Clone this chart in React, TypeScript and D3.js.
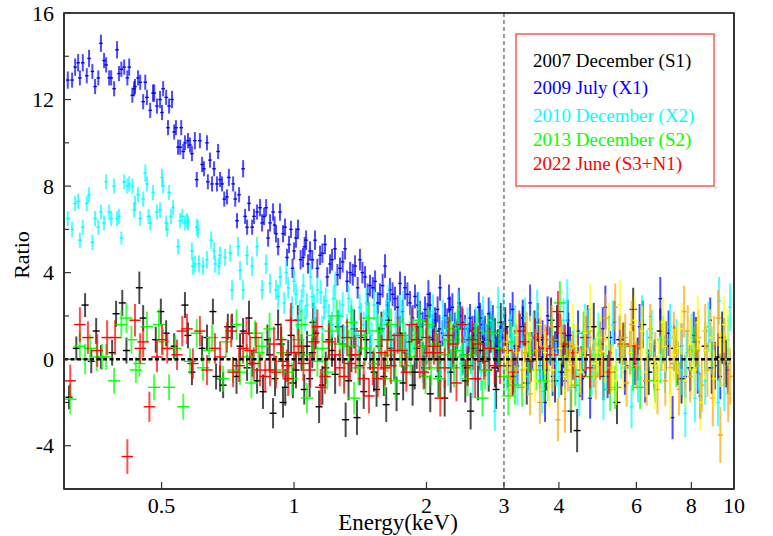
import React from "react";
import * as d3 from "d3";

// [energy keV, ratio, 1-sigma error]
const s1Dec2007: number[][] = [
  [0.308,-1.76,.55],[0.320,0.5,.55],[0.335,2.5,.55],[0.346,-0.1,.55],[0.355,1.3,.6],[0.364,0.1,.55],
  [0.386,0.3,.6],[0.394,2.1,.6],[0.407,2.6,.6],[0.416,0.4,.6],[0.445,3.3,.75],[0.454,1.9,.6],
  [0.485,0.9,.6],[0.498,2.2,.6],[0.512,1.2,.6],[0.534,0.6,.6],[0.565,2.5,.6],[0.574,1.1,.6],
  [0.586,-0.6,.6],[0.618,0.5,.6],[0.634,1.0,.6],[0.654,2.2,.6],[0.665,-0.8,.6],[0.679,-0.9,.6],
  [0.690,-1.2,.6],[0.707,1.5,.6],[0.723,1.5,.6],[0.754,0.6,.6],[0.766,1.3,.6],[0.782,-0.4,.6],
  [0.803,-0.2,.6],[0.824,-1.0,.6],[0.87,0.9,.7],[0.896,-2.5,.7],[0.92,1.6,.7],[0.944,-2.0,.7],
  [0.97,0.2,.7],[0.994,-1.1,.7],[1.02,1.8,.7],[1.055,-1.4,.7],[1.07,0.6,.7],[1.10,0.3,.7],
  [1.12,1.2,.75],[1.14,-2.2,.75],[1.18,-0.4,.75],[1.22,0.4,.75],[1.26,1.5,.75],[1.31,-2.8,.8],
  [1.35,0.2,.8],[1.39,-2.7,.8],[1.42,1.0,.8],[1.44,-1.5,.8],[1.49,0.3,.8],[1.54,-1.4,.8],
  [1.58,1.4,.8],[1.62,-2.1,.8],[1.66,0.5,.8],[1.71,-1.6,.8],[1.74,1.2,.8],[1.77,-1.1,.8],
  [1.83,0.8,.8],[1.88,-0.6,.8],[1.92,1.5,.8],[1.96,0.0,.8],[2.00,0.6,.85],[2.04,-1.6,.85],
  [2.10,1.3,.85],[2.15,0.0,.85],[2.20,-1.8,.85],[2.24,0.9,.85],[2.30,0.4,.85],[2.36,1.6,.85],
  [2.42,0.2,.85],[2.48,-0.4,.85],[2.52,-2.4,.85],[2.58,1.1,.9],[2.65,0.4,.9],[2.72,0.1,.9],
  [2.80,1.2,.9],[2.86,-0.4,.9],[2.88,-1.4,.9],[2.95,1.7,.9],[3.02,1.5,.9],[3.14,-0.8,.9],
  [3.31,1.5,.95],[3.44,0.3,.95],[3.6,0.9,.95],[3.75,-0.5,.95],[3.92,-1.0,1.0],[3.96,1.5,1.0],
  [4.1,0.6,1.0],[4.26,-2.4,1.0],[4.40,-3.3,1.0],[4.6,0.2,1.0],[4.96,0.7,1.0],[5.2,1.0,1.0],
  [5.42,-2.0,1.0],[5.65,-0.3,1.0],[5.90,2.3,1.0],[6.04,0.0,1.0],[6.4,-0.6,1.05],[6.80,1.3,1.05],
  [7.3,0.5,1.05],[7.95,-0.4,1.05],[8.6,0.6,1.1],[9.20,0.1,1.1],[9.6,-0.2,1.1],
  [0.74,-0.8,.8],[0.79,1.9,.8],[0.85,-1.5,.8],[0.88,0.2,.8],[0.905,-0.9,.8],[0.935,0.7,.8],
  [0.955,-1.3,.85],[0.985,1.1,.85],[1.01,-0.5,.85],[1.04,0.3,.85],[1.085,-0.9,.85],[1.105,1.7,.9],
  [1.16,-1.2,.9],[1.20,0.9,.9],[1.24,-0.7,.9],[1.29,0.7,.9],[1.33,-1.0,.9],[1.37,1.4,.9],
  [1.41,-0.3,.9],[1.46,0.9,.9],[1.52,-0.6,.9],[1.56,0.6,.9],[1.60,-0.8,.9],[1.64,1.8,.95],
  [1.69,0.0,.95],[1.79,0.3,.95],[1.86,-1.2,.95],[1.90,0.5,.95],[1.98,-0.4,.95],[2.07,0.9,.95],
  [2.13,-0.8,.95],[2.27,-0.6,.95],[2.33,0.9,.95],[2.45,-1.0,1.0],[2.55,0.5,1.0],[2.62,-0.9,1.0],
  [2.69,0.8,1.0],[2.77,-0.5,1.0],[2.91,0.4,1.0],[3.06,-0.3,1.0],[3.2,0.6,1.0],[3.38,-1.1,1.0],
  [3.52,1.2,1.05],[3.68,0.1,1.05],[3.84,1.8,1.05],[4.05,-0.6,1.05],[4.2,1.1,1.05],[4.5,-0.5,1.1],
  [4.8,1.5,1.1],[5.05,-0.8,1.1],[5.5,0.9,1.1],[6.2,1.6,1.1],[6.6,-0.2,1.1],[7.0,0.6,1.15],
  [7.6,-0.9,1.15],[8.2,0.8,1.15],[8.9,-0.4,1.2],[9.4,1.0,1.2],
];

const x1Jul2009: number[][] = [
  [0.306,12.9,.4],[0.313,12.9,.35],[0.318,13.5,.4],[0.323,13.7,.4],[0.326,13.0,.35],[0.331,13.7,.4],
  [0.338,13.1,.35],[0.342,13.9,.4],[0.348,13.3,.35],[0.353,12.6,.35],[0.359,13.0,.35],[0.364,14.6,.4],
  [0.370,13.8,.35],[0.374,13.6,.35],[0.380,13.0,.35],[0.384,13.0,.35],[0.390,12.5,.35],[0.396,14.3,.4],
  [0.400,13.2,.35],[0.405,13.4,.35],[0.411,13.5,.35],[0.418,13.0,.35],[0.422,13.5,.4],[0.429,12.2,.35],
  [0.433,12.5,.35],[0.435,12.6,.35],[0.442,13.0,.35],[0.447,12.8,.35],[0.454,11.9,.35],[0.459,12.8,.35],
  [0.463,12.1,.35],[0.471,11.5,.35],[0.478,12.3,.4],[0.481,12.3,.4],[0.488,11.7,.35],[0.496,12.0,.4],
  [0.501,11.4,.35],[0.504,12.5,.35],[0.512,12.1,.35],[0.517,10.7,.35],[0.520,11.7,.35],[0.528,12.0,.4],
  [0.534,10.5,.35],[0.539,10.7,.35],[0.545,9.8,.35],[0.551,9.8,.35],[0.554,10.7,.35],[0.560,9.6,.35],
  [0.565,10.0,.35],[0.574,10.1,.35],[0.580,9.9,.35],[0.586,9.5,.35],[0.595,10.1,.4],[0.601,8.3,.35],
  [0.611,10.1,.35],[0.618,9.0,.35],[0.624,8.8,.35],[0.634,10.0,.35],[0.637,8.2,.35],[0.644,9.2,.35],
  [0.651,8.1,.35],[0.658,8.8,.35],[0.668,8.1,.35],[0.672,9.6,.35],[0.679,8.3,.35],[0.686,8.1,.35],
  [0.694,7.4,.35],[0.704,7.5,.35],[0.711,8.4,.4],[0.727,8.1,.35],[0.735,7.4,.35],[0.742,6.4,.35],
  [0.750,7.6,.35],[0.766,8.8,.4],[0.774,6.6,.35],[0.782,6.1,.35],[0.790,7.2,.35],[0.803,6.1,.35],
  [0.811,6.6,.35],[0.824,6.8,.35],[0.837,7.0,.4],[0.846,6.3,.4],[0.855,6.6,.4],[0.864,7.0,.4],
  [0.873,5.6,.4],[0.882,6.3,.4],[0.896,6.8,.4],[0.903,6.2,.4],[0.910,5.8,.4],[0.92,5.2,.4],
  [0.929,6.8,.4],[0.944,5.8,.4],[0.954,6.1,.4],[0.964,4.7,.4],[0.974,5.3,.4],[0.984,6.0,.4],
  [0.992,4.2,.45],[1.0,5.0,.4],[1.01,5.6,.45],[1.021,6.0,.45],[1.035,4.6,.45],[1.048,4.7,.45],
  [1.057,5.2,.45],[1.065,5.5,.45],[1.076,4.4,.45],[1.087,5.0,.45],[1.10,4.6,.45],[1.116,5.5,.45],
  [1.13,4.2,.45],[1.146,4.8,.45],[1.16,4.9,.45],[1.176,5.3,.45],[1.19,3.8,.45],[1.207,4.4,.45],
  [1.22,4.6,.5],[1.239,5.1,.5],[1.255,3.9,.5],[1.272,4.2,.5],[1.29,4.5,.5],[1.306,5.1,.5],
  [1.32,3.6,.5],[1.341,4.0,.5],[1.36,3.9,.5],[1.376,4.3,.5],[1.395,3.3,.5],[1.412,4.6,.5],
  [1.43,4.0,.5],[1.45,3.8,.5],[1.47,3.0,.5],[1.488,3.4,.5],[1.51,3.3,.5],[1.528,3.6,.5],
  [1.55,2.6,.5],[1.568,3.0,.5],[1.59,3.4,.55],[1.61,4.3,.55],[1.63,2.5,.55],[1.652,3.2,.55],
  [1.675,3.0,.55],[1.696,2.8,.55],[1.72,2.4,.55],[1.741,3.5,.55],[1.765,2.2,.55],[1.787,3.3,.55],
  [1.81,3.0,.55],[1.835,2.6,.55],[1.86,1.9,.6],[1.883,2.9,.55],[1.91,2.5,.6],[1.933,2.1,.6],
  [1.96,1.6,.6],[1.985,2.3,.6],[2.01,2.0,.6],[2.037,2.5,.6],[2.065,1.5,.6],[2.091,1.8,.6],
  [2.12,2.3,.6],[2.147,3.3,.6],[2.175,1.2,.6],[2.204,2.0,.6],[2.23,1.7,.65],[2.262,2.3,.6],
  [2.29,2.4,.65],[2.322,1.5,.65],[2.35,1.1,.65],[2.384,2.0,.65],[2.415,1.7,.65],[2.447,1.4,.65],
  [2.48,0.9,.65],[2.512,1.9,.65],[2.545,1.3,.7],[2.579,1.6,.7],[2.61,0.8,.7],[2.647,1.9,.7],
  [2.68,1.6,.7],[2.717,1.3,.7],[2.75,0.9,.7],[2.79,1.5,.7],[2.83,1.8,.7],[2.863,1.2,.7],
  [2.9,0.6,.75],[2.94,0.8,.75],[2.98,1.0,.75],[3.018,1.4,.75],[3.10,1.8,.8],[3.18,0.5,.8],
  [3.26,1.3,.8],[3.35,0.7,.85],[3.44,2.6,.85],[3.53,1.0,.85],[3.62,-0.3,.85],[3.72,-2.0,.9],
  [3.82,0.6,.9],[3.92,0.4,.9],[4.13,-1.0,.9],[4.24,0.6,.9],[4.35,-0.4,.95],[4.59,0.3,.95],
  [4.71,-1.8,.95],[4.96,0.8,.95],[5.10,2.4,1.0],[5.23,0.3,1.0],[5.51,1.0,1.0],[5.81,0.3,1.0],
  [5.96,-0.2,1.0],[6.28,-1.0,1.0],[6.45,1.0,1.0],[6.80,2.8,1.0],[6.98,0.1,1.0],[7.25,-2.7,1.0],
  [7.45,-0.2,1.0],[7.75,-0.8,1.0],[7.95,-0.5,1.0],[8.27,-0.6,1.0],[8.38,-1.7,1.05],[8.83,1.8,1.05],
  [9.31,-0.8,1.05],[9.68,-0.5,1.05],
  [2.02,3.0,.65],[2.14,1.4,.65],[2.25,2.8,.65],[2.37,2.6,.7],[2.50,1.0,.7],[2.63,2.4,.7],
  [2.77,2.1,.75],[2.88,0.3,.75],[3.05,0.7,.8],[3.14,2.3,.8],[3.22,-0.3,.85],[3.31,1.9,.85],
  [3.40,-0.6,.85],[3.48,0.4,.85],[3.58,1.7,.9],[3.67,0.9,.9],[3.77,2.0,.9],[3.87,-0.8,.9],
  [3.98,1.2,.95],[4.07,-0.3,.95],[4.19,1.8,.95],[4.30,0.0,.95],[4.42,1.3,.95],[4.52,-0.9,1.0],
  [4.65,1.5,1.0],[4.80,-0.3,1.0],[5.03,1.4,1.0],[5.16,-0.8,1.0],[5.35,1.7,1.0],[5.65,-0.6,1.05],
  [6.1,1.5,1.05],[6.6,-0.4,1.05],[7.1,1.2,1.05],[7.6,0.6,1.05],[8.1,1.1,1.1],[8.6,0.4,1.1],
  [9.05,-0.3,1.1],[9.5,0.8,1.1],
];

const x2Dec2010: number[][] = [
  [0.306,6.5,.35],[0.313,6.0,.35],[0.318,7.2,.35],[0.323,7.3,.35],[0.326,5.5,.35],[0.331,6.1,.35],
  [0.338,7.2,.35],[0.342,7.6,.35],[0.348,5.4,.35],[0.353,6.5,.35],[0.359,6.1,.35],[0.364,6.8,.35],
  [0.370,6.3,.35],[0.374,8.2,.35],[0.380,6.8,.35],[0.384,6.5,.35],[0.390,8.0,.35],[0.396,6.5,.35],
  [0.400,6.6,.35],[0.405,5.6,.3],[0.411,8.2,.35],[0.418,8.0,.35],[0.422,8.1,.35],[0.429,8.0,.35],
  [0.433,6.9,.35],[0.435,7.2,.35],[0.442,7.6,.35],[0.447,6.5,.35],[0.454,7.4,.35],[0.459,8.6,.4],
  [0.463,8.1,.35],[0.467,6.6,.35],[0.471,6.3,.35],[0.478,7.7,.35],[0.488,6.8,.35],[0.496,6.9,.35],
  [0.501,8.4,.4],[0.504,8.0,.35],[0.512,6.3,.35],[0.515,6.0,.35],[0.520,7.7,.35],[0.525,6.6,.35],
  [0.531,7.0,.35],[0.545,5.2,.35],[0.551,6.4,.35],[0.557,6.6,.35],[0.565,6.3,.35],[0.571,6.4,.35],
  [0.574,6.3,.35],[0.586,5.0,.4],[0.589,4.3,.4],[0.595,4.4,.4],[0.601,6.1,.4],[0.605,6.0,.4],
  [0.608,4.4,.4],[0.621,4.3,.4],[0.634,4.6,.4],[0.648,5.5,.4],[0.658,5.0,.4],[0.662,4.4,.4],
  [0.675,4.3,.4],[0.679,4.8,.4],[0.697,4.7,.4],[0.716,4.9,.4],[0.723,3.2,.45],[0.746,5.2,.45],
  [0.754,4.1,.45],[0.766,3.2,.45],[0.782,4.8,.45],[0.803,4.3,.45],[0.824,5.2,.45],[0.846,3.2,.45],
  [0.864,4.4,.45],[0.882,3.5,.45],[0.91,3.2,.45],[0.93,3.8,.5],[0.95,2.6,.5],[0.97,3.3,.5],
  [0.99,2.4,.5],[1.01,3.0,.5],[1.03,2.2,.5],[1.05,3.4,.55],[1.07,2.5,.55],[1.10,2.9,.55],
  [1.12,1.9,.55],[1.15,3.1,.55],[1.17,2.4,.55],[1.20,2.0,.55],[1.23,2.8,.6],[1.26,1.7,.6],
  [1.29,2.5,.6],[1.32,1.5,.6],[1.35,2.2,.6],[1.38,1.2,.6],[1.41,2.4,.6],[1.44,1.6,.6],
  [1.47,2.0,.6],[1.50,1.1,.65],[1.54,1.9,.65],[1.58,1.3,.65],[1.62,2.1,.65],[1.66,0.9,.65],
  [1.70,1.5,.7],[1.74,2.2,.7],[1.79,1.0,.7],[1.84,1.7,.7],[1.89,0.6,.7],[1.94,1.3,.75],
  [1.99,0.2,.75],[2.04,1.5,.75],[2.10,0.7,.75],[2.15,-1.0,.8],[2.21,1.2,.8],[2.27,0.4,.8],
  [2.33,1.4,.8],[2.39,-0.2,.8],[2.45,1.0,.85],[2.52,0.3,.85],[2.59,1.6,.85],[2.66,-0.6,.85],
  [2.73,0.8,.85],[2.80,1.8,.9],[2.86,-2.4,.9],[2.95,0.5,.9],[2.99,2.1,.9],[3.10,1.2,.9],
  [3.18,1.6,.9],[3.30,0.6,.9],[3.40,-0.8,.9],[3.50,1.2,.95],[3.62,-0.4,.95],[3.70,0.4,.95],
  [3.78,-1.0,.95],[3.94,-0.2,1.0],[4.05,0.8,1.0],[4.18,2.7,1.0],[4.25,-1.4,1.0],[4.38,-0.5,1.0],
  [4.52,0.3,1.0],[4.65,1.3,1.0],[4.83,0.0,1.0],[5.05,-1.8,1.0],[5.2,0.9,1.0],[5.40,-0.5,1.0],
  [5.54,0.1,1.0],[5.85,-2.2,1.0],[5.89,-0.5,1.0],[6.18,1.9,1.05],[6.35,0.3,1.05],[6.6,-0.7,1.05],
  [6.97,-0.5,1.05],[7.16,1.5,1.05],[7.4,0.8,1.05],[7.75,-2.5,1.1],[7.8,0.3,1.05],[8.0,1.0,1.1],
  [8.15,-1.8,1.1],[8.60,-1.0,1.1],[8.9,0.4,1.1],[9.20,-2.0,1.1],[9.25,2.7,1.1],[9.70,0.9,1.1],
  [9.80,2.4,1.1],
  [0.92,2.9,.55],[0.96,4.0,.55],[0.98,1.8,.55],[1.00,3.6,.55],[1.02,1.5,.55],[1.04,2.7,.55],
  [1.06,1.9,.6],[1.09,3.8,.6],[1.11,2.4,.6],[1.13,3.2,.6],[1.16,1.4,.6],[1.18,2.7,.6],
  [1.22,1.6,.6],[1.24,3.4,.65],[1.27,2.1,.65],[1.30,0.9,.65],[1.33,2.8,.65],[1.36,1.7,.65],
  [1.40,0.6,.65],[1.42,1.9,.7],[1.46,2.6,.7],[1.49,0.7,.7],[1.52,2.5,.7],[1.56,0.5,.7],
  [1.60,1.6,.7],[1.64,2.7,.75],[1.68,0.4,.75],[1.72,1.2,.75],[1.77,2.4,.75],[1.81,0.3,.75],
  [1.86,1.1,.8],[1.92,2.3,.8],[1.96,-0.3,.8],[2.01,0.9,.8],[2.07,2.2,.8],[2.12,0.0,.85],
  [2.18,1.9,.85],[2.24,-0.4,.85],[2.30,0.9,.85],[2.36,2.3,.85],[2.42,0.1,.85],[2.48,1.5,.9],
  [2.55,-0.9,.9],[2.62,0.6,.9],[2.69,2.0,.9],[2.76,-0.3,.9],[2.83,0.9,.9],[2.91,2.4,.95],
  [3.05,-0.5,.95],[3.14,0.3,.95],[3.22,-1.2,.95],[3.35,1.9,.95],[3.46,0.0,1.0],[3.57,2.2,1.0],
  [3.66,-1.5,1.0],[3.86,1.0,1.0],[4.0,-0.8,1.0],[4.1,1.8,1.0],[4.32,0.6,1.05],[4.45,-1.6,1.05],
  [4.58,1.5,1.05],[4.75,-0.6,1.05],[4.92,1.1,1.05],[5.12,-0.4,1.05],[5.3,1.6,1.1],[5.65,0.6,1.1],
  [6.05,-0.9,1.1],[6.5,1.2,1.1],[6.8,0.0,1.1],[7.6,-0.5,1.15],[8.3,-0.3,1.15],[8.75,1.5,1.15],
  [9.5,-1.2,1.2],
];

const s2Dec2013: number[][] = [
  [0.310,-1.85,.7],[0.326,0.6,.65],[0.335,0.0,.7],[0.344,0.5,.65],[0.356,0.1,.65],[0.366,0.1,.6],
  [0.374,0.1,.6],[0.390,-1.0,.6],[0.405,1.6,.65],[0.416,1.9,.7],[0.427,0.9,.65],[0.437,-0.5,.6],
  [0.445,-0.2,.6],[0.463,1.5,.7],[0.481,-1.3,.6],[0.493,1.6,.7],[0.504,0.8,.6],[0.520,-1.3,.6],
  [0.537,0.5,.6],[0.560,-2.2,.6],[0.580,-0.1,.6],[0.601,1.2,.65],[0.621,-0.4,.6],[0.641,0.4,.6],
  [0.651,1.0,.6],[0.690,-0.9,.6],[0.727,-0.5,.6],[0.754,-0.6,.6],[0.782,0.1,.6],[0.815,1.2,.6],
  [0.846,0.6,.65],[0.91,-0.5,.65],[0.97,-0.6,.65],[1.02,0.9,.7],[1.04,1.6,.7],[1.07,-1.8,.7],
  [1.13,-0.1,.7],[1.16,0.5,.7],[1.21,1.3,.7],[1.25,2.0,.75],[1.30,-0.8,.75],[1.33,0.6,.75],
  [1.37,-1.8,.75],[1.42,1.1,.75],[1.48,1.9,.75],[1.52,-0.2,.75],[1.57,0.9,.75],[1.61,-0.9,.75],
  [1.66,1.6,.75],[1.74,0.4,.75],[1.80,-0.3,.8],[1.88,0.9,.8],[1.93,1.8,.8],[1.99,-0.8,.8],
  [2.05,-0.4,.8],[2.10,0.7,.8],[2.20,0.2,.8],[2.27,1.4,.8],[2.34,0.4,.8],[2.41,0.1,.85],
  [2.48,-0.9,.8],[2.58,0.8,.85],[2.68,-1.8,.85],[2.76,1.2,.85],[2.84,1.2,.85],[3.07,-1.7,.9],
  [3.18,-1.2,.9],[3.30,-1.3,.9],[3.70,-1.0,.95],[4.02,2.6,1.0],[4.36,-1.2,.95],[4.71,-0.8,1.0],
  [5.23,-1.4,1.0],[5.37,-1.3,1.0],[6.12,-1.3,1.0],[6.62,-1.0,1.0],
  [0.70,0.8,.7],[0.74,1.6,.7],[0.80,-1.1,.7],[0.83,0.3,.7],[0.88,1.4,.75],[0.94,0.3,.75],
  [0.99,-0.9,.75],[1.05,0.2,.75],[1.10,1.1,.75],[1.19,-0.6,.8],[1.27,0.7,.8],[1.35,1.7,.8],
  [1.40,-0.4,.8],[1.45,0.5,.8],[1.55,1.3,.8],[1.63,0.2,.8],[1.70,-1.0,.85],[1.77,1.1,.85],
  [1.84,0.1,.85],[1.96,0.6,.85],[2.02,1.6,.85],[2.14,-0.9,.85],[2.24,0.9,.9],[2.31,-0.4,.9],
  [2.37,1.6,.9],[2.52,0.2,.9],[2.62,1.3,.9],[2.72,-0.5,.9],[2.92,0.5,.9],[3.0,-0.8,.9],
  [3.12,0.8,.95],[3.42,0.3,.95],[3.55,-0.5,.95],[3.85,0.9,1.0],[4.15,0.1,1.0],[4.55,1.2,1.0],
  [4.9,0.2,1.05],[5.6,0.6,1.05],[5.9,-0.4,1.05],[6.9,0.9,1.1],[7.4,-0.2,1.1],[8.1,0.4,1.1],
];

const s3n1Jun2022: number[][] = [
  [0.310,-1.0,.75],[0.326,1.6,.8],[0.340,1.0,.75],[0.357,0.4,.75],[0.376,1.0,.8],[0.392,1.0,.8],
  [0.418,-4.5,.8],[0.435,1.8,.75],[0.447,0.5,.7],[0.454,0.8,.7],[0.469,-2.2,.7],[0.488,0.1,.7],
  [0.501,0.9,.7],[0.515,0.5,.7],[0.542,0.2,.7],[0.557,1.3,.7],[0.571,1.4,.7],[0.589,-0.2,.7],
  [0.611,1.3,.7],[0.634,-0.5,.7],[0.661,0.5,.7],[0.679,0.1,.7],[0.704,1.0,.7],[0.727,-0.6,.7],
  [0.766,0.5,.7],[0.794,0.4,.7],[0.820,1.0,.7],[0.837,-0.5,.75],[0.86,-0.8,.75],[0.882,-0.5,.75],
  [0.91,-0.6,.75],[0.934,0.9,.75],[0.944,-0.1,.75],[0.964,-0.3,.75],[0.984,1.8,.8],[1.025,0.6,.8],
  [1.087,-0.5,.8],[1.13,1.5,.8],[1.176,-0.8,.8],[1.24,0.2,.8],[1.30,-0.8,.8],[1.34,-0.2,.8],
  [1.44,-0.9,.8],[1.48,-1.7,.8],[1.51,-0.4,.8],[1.58,0.3,.8],[1.61,-0.4,.8],[1.63,0.9,.8],
  [1.69,0.4,.8],[1.76,0.4,.8],[1.85,1.6,.8],[1.90,0.9,.8],[1.97,-0.6,.8],[2.03,0.3,.8],
  [2.08,0.6,.85],[2.15,-1.8,.85],[2.25,1.1,.85],[2.34,-1.1,.85],[2.41,1.6,.85],[2.54,0.9,.85],
  [2.62,0.7,.85],[2.70,-0.1,.85],[2.86,-0.3,.85],[2.94,-0.3,.85],[3.35,0.8,.9],[3.53,1.0,.9],
  [3.62,1.0,.9],[3.88,0.2,.9],[3.98,2.2,.95],[4.03,1.2,.9],[4.13,0.7,.9],[4.47,-0.8,.95],
  [4.71,-0.4,.95],[4.96,0.0,.95],[5.60,0.7,1.0],[5.93,0.6,1.0],
  [0.72,1.3,.75],[0.75,-0.3,.75],[0.78,1.2,.75],[0.81,-0.2,.75],[0.90,0.7,.8],[0.97,-0.9,.8],
  [1.00,0.3,.8],[1.05,-0.2,.8],[1.11,0.8,.8],[1.15,-1.3,.85],[1.20,0.8,.85],[1.27,-0.4,.85],
  [1.32,1.0,.85],[1.38,0.2,.85],[1.42,1.3,.85],[1.55,-0.9,.85],[1.66,-0.3,.85],[1.72,1.1,.85],
  [1.80,-0.6,.9],[1.93,0.0,.9],[2.00,1.0,.9],[2.12,0.3,.9],[2.20,-0.4,.9],[2.30,0.7,.9],
  [2.48,-0.3,.9],[2.58,-0.9,.9],[2.78,0.5,.95],[3.05,0.4,.95],[3.15,-0.6,.95],[3.25,1.3,.95],
  [3.45,-0.1,.95],[3.75,0.5,1.0],[4.3,0.3,1.0],[4.6,1.0,1.0],[5.2,-0.6,1.0],
];

const hardOrange: number[][] = [
  [3.20,0.3,.95],[3.30,-0.5,.95],[3.44,-1.6,1.0],[3.62,-2.0,1.0],[3.72,0.6,1.0],[3.98,-2.8,1.0],
  [4.13,-2.4,1.0],[4.19,-0.5,1.0],[4.35,-0.3,1.0],[4.47,-0.5,1.05],[4.71,1.3,1.05],[5.10,1.9,1.1],
  [5.37,2.4,1.1],[5.51,1.0,1.1],[5.66,1.0,1.1],[5.70,-1.1,1.1],[6.12,0.6,1.1],[6.33,-1.0,1.15],
  [6.62,0.1,1.15],[6.70,-1.4,1.15],[6.98,-1.0,1.15],[7.16,-0.4,1.15],[7.30,1.0,1.2],[7.50,-1.4,1.2],
  [7.70,2.2,1.2],[7.95,-0.8,1.2],[8.20,0.5,1.2],[8.30,1.0,1.25],[8.60,1.3,1.25],[8.70,-0.5,1.25],
  [8.95,-1.8,1.3],[9.20,1.9,1.3],[9.31,-3.5,1.3],[9.70,-1.6,1.3],
  [3.0,0.8,.95],[3.1,-0.9,.95],[3.38,1.2,1.0],[3.55,0.4,1.0],[3.85,1.5,1.0],[4.05,0.9,1.0],
  [4.27,-1.3,1.05],[4.58,0.5,1.05],[4.85,-0.8,1.05],[5.0,0.3,1.1],[5.25,-0.4,1.1],[5.85,1.6,1.1],
  [6.0,-0.3,1.1],[6.45,1.4,1.15],[6.85,0.6,1.15],[7.40,0.3,1.2],[7.85,1.3,1.2],[8.45,-1.2,1.25],
  [9.0,0.7,1.3],[9.5,0.0,1.3],[9.8,-0.8,1.3],
];

const hardYellow: number[][] = [
  [3.44,1.0,1.0],[3.53,-1.0,1.0],[3.72,0.3,1.0],[3.88,-0.5,1.0],[4.02,0.5,1.0],[4.13,-0.8,1.0],
  [4.24,-0.2,1.05],[4.38,0.6,1.05],[4.59,1.2,1.1],[4.71,2.4,1.1],[4.89,0.5,1.1],[4.96,1.0,1.1],
  [5.10,0.0,1.1],[5.30,-0.5,1.1],[5.40,-1.0,1.1],[5.51,2.5,1.15],[5.81,0.3,1.15],[6.18,1.3,1.15],
  [6.45,0.8,1.15],[6.62,-1.1,1.2],[6.75,-0.2,1.2],[6.98,0.6,1.2],[7.16,-1.6,1.2],[7.45,0.5,1.2],
  [7.75,-1.0,1.25],[7.95,0.7,1.25],[8.27,1.7,1.25],[8.38,-2.0,1.3],[8.83,1.0,1.3],[9.31,0.0,1.3],
  [9.68,1.0,1.3],
  [3.05,0.2,.95],[3.2,1.1,1.0],[3.35,-0.4,1.0],[3.62,1.6,1.0],[3.8,-1.2,1.0],[4.3,1.5,1.05],
  [4.48,-0.6,1.05],[4.8,-0.2,1.1],[5.2,1.5,1.1],[5.6,-0.3,1.15],[5.95,1.8,1.15],[6.3,-0.6,1.15],
  [6.9,1.7,1.2],[7.3,0.2,1.2],[7.6,1.4,1.2],[8.1,-0.5,1.25],[8.6,0.4,1.3],[9.0,-0.9,1.3],
  [9.5,1.6,1.3],
];

const legendLabels = ["2007 December (S1)", "2009 July (X1)", "2010 December (X2)", "2013 December (S2)", "2022 June (S3+N1)"];
const legendColors = ["#000000", "#0000ff", "#00ffff", "#00ff00", "#ff0000"];
const xTicks = [0.5, 1, 2, 3, 4, 6, 8, 10];
const yTicks = [-4, 0, 4, 8, 12, 16];
const yMinorTicks = [-2, 2, 6, 10, 14];

const W = 773, H = 536;
const margin = { top: 13, right: 39, bottom: 47, left: 64 };
const font = "Liberation Serif, Times New Roman, serif";

// draw order and half bin width (in dex) per data set
const series = [
  { data: s1Dec2007, color: "#000000", dex: 0.008 },
  { data: x1Jul2009, color: "#0000ff", dex: 0.004 },
  { data: x2Dec2010, color: "#00ffff", dex: 0.004 },
  { data: s2Dec2013, color: "#00ff00", dex: 0.014 },
  { data: s3n1Jun2022, color: "#ff0000", dex: 0.013 },
  { data: hardOrange, color: "#ffa500", dex: 0.006 },
  { data: hardYellow, color: "#ffff00", dex: 0.005 },
];

export default function App() {
  const x = d3.scaleLog().domain([0.3, 10]).range([margin.left, W - margin.right]);
  const y = d3.scaleLinear().domain([-6, 16]).range([H - margin.bottom, margin.top]);
  const [x0, x1] = x.range();
  const [yb, yt] = y.range();

  return (
    <svg width={W} height={H} style={{ position: "absolute", left: 0, top: 0, background: "#fff", fontFamily: font }}>
      {/* data */}
      {series.map((s, si) => (
        <g key={si}>
          {s.data.map(([e, r, err], i) => {
            const f = Math.pow(10, s.dex);
            return (
              <g key={i}>
                <line x1={x(e)} x2={x(e)} y1={y(Math.max(r - err, -6))} y2={y(r + err)}
                  stroke={s.color} strokeWidth={2} strokeOpacity={0.7} />
                <line x1={x(e / f)} x2={x(Math.min(e * f, 10))} y1={y(r)} y2={y(r)}
                  stroke={s.color} strokeWidth={1.4} />
              </g>
            );
          })}
        </g>
      ))}

      {/* reference lines */}
      <line x1={x0} x2={x1} y1={y(0)} y2={y(0)} stroke="#000" strokeWidth={2.5} strokeDasharray="4,2.5" />
      <line x1={x(3)} x2={x(3)} y1={yt} y2={yb} stroke="#666" strokeWidth={1.3} strokeDasharray="4,3" />

      {/* frame */}
      <rect x={x0} y={yt} width={x1 - x0} height={yb - yt} fill="none" stroke="#000" strokeWidth={1.5} />
      <line x1={x0} x2={x0} y1={yt} y2={yb} stroke="#333" strokeWidth={2} />
      <line x1={x1} x2={x1} y1={yt} y2={yb} stroke="#333" strokeWidth={2} />
      <line x1={x0} x2={x1} y1={yb} y2={yb} stroke="#333" strokeWidth={2} />

      {/* y axis */}
      {yTicks.map((t) => (
        <g key={t}>
          <line x1={x0} x2={x0 + 7} y1={y(t)} y2={y(t)} stroke="#333" strokeWidth={1.2} />
          <text x={54} y={y(t) + 7.5} textAnchor="end" fontSize={22}>{t}</text>
        </g>
      ))}
      {yMinorTicks.map((t) => (
        <line key={t} x1={x0} x2={x0 + 5} y1={y(t)} y2={y(t)} stroke="#333" strokeWidth={1.2} />
      ))}

      {/* x axis */}
      {xTicks.map((t) => (
        <g key={t}>
          <line x1={x(t)} x2={x(t)} y1={yb} y2={yb - 7} stroke="#333" strokeWidth={1.2} />
          <text x={x(t)} y={513} textAnchor="middle" fontSize={22}>{t}</text>
        </g>
      ))}

      <text x={398} y={530} textAnchor="middle" fontSize={23}>Energy(keV)</text>
      <text transform="translate(29,255) rotate(-90)" textAnchor="middle" fontSize={22}>Ratio</text>

      {/* legend */}
      <rect x={516} y={34} width={198} height={152} fill="#fff" stroke="#ff3030" strokeWidth={1.2} />
      {legendLabels.map((l, i) => (
        <text key={l} x={533} y={[67, 94, 122, 146, 170][i]} fontSize={19} fill={legendColors[i]}>{l}</text>
      ))}
    </svg>
  );
}
